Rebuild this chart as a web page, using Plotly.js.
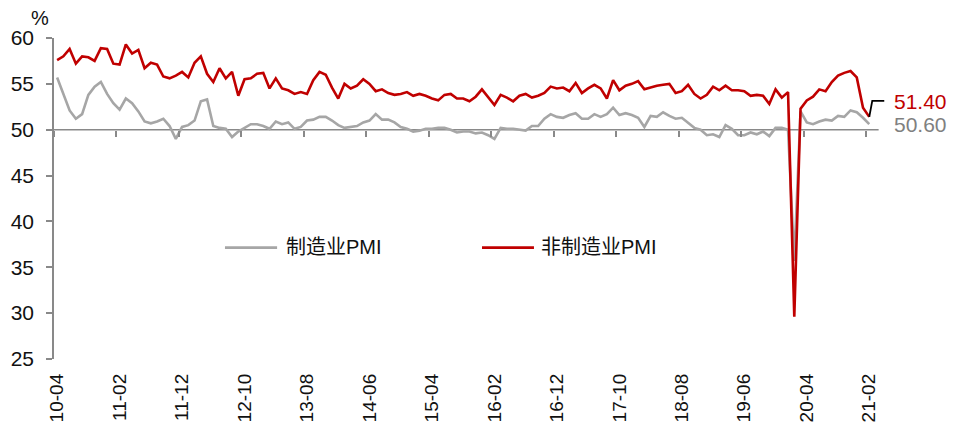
<!DOCTYPE html>
<html>
<head>
<meta charset="utf-8">
<script src="https://cdn.plot.ly/plotly-3.0.1.min.js"></script>
<style>
  html, body { margin: 0; padding: 0; background: #fff; }
  #chart { width: 956px; height: 428px; }
</style>
</head>
<body>
<div id="chart"></div>
<script>
// ---- data (monthly, 2010-04 .. 2021-02) ----
const startYear = 2010;
const startMonth = 4;
const monthCount = 131;

const mfgPMI = [
  55.7, 53.9, 52.1, 51.2, 51.7, 53.8, 54.7, 55.2, 53.9,
  52.9, 52.2, 53.4, 52.9, 52.0, 50.9, 50.7, 50.9, 51.2, 50.4, 49.0, 50.3,
  50.5, 51.0, 53.1, 53.3, 50.4, 50.2, 50.1, 49.2, 49.8, 50.2, 50.6, 50.6,
  50.4, 50.1, 50.9, 50.6, 50.8, 50.1, 50.3, 51.0, 51.1, 51.4, 51.4, 51.0,
  50.5, 50.2, 50.3, 50.4, 50.8, 51.0, 51.7, 51.1, 51.1, 50.8, 50.3, 50.1,
  49.8, 49.9, 50.1, 50.1, 50.2, 50.2, 50.0, 49.7, 49.8, 49.8, 49.6, 49.7,
  49.4, 49.0, 50.2, 50.1, 50.1, 50.0, 49.9, 50.4, 50.4, 51.2, 51.7, 51.4,
  51.3, 51.6, 51.8, 51.2, 51.2, 51.7, 51.4, 51.7, 52.4, 51.6, 51.8, 51.6,
  51.3, 50.3, 51.5, 51.4, 51.9, 51.5, 51.2, 51.3, 50.8, 50.2, 50.0, 49.4,
  49.5, 49.2, 50.5, 50.1, 49.4, 49.4, 49.7, 49.5, 49.8, 49.3, 50.2, 50.2,
  50.0, 35.7, 52.0, 50.8, 50.6, 50.9, 51.1, 51.0, 51.5, 51.4, 52.1, 51.9,
  51.3, 50.6
];

const nonMfgPMI = [
  57.6, 58.0, 58.8, 57.2, 58.0, 57.9, 57.5, 58.9, 58.8,
  57.2, 57.1, 59.3, 58.3, 58.7, 56.7, 57.3, 57.1, 55.8, 55.6, 55.9, 56.3,
  55.7, 57.3, 58.0, 56.1, 55.2, 56.7, 55.6, 56.3, 53.7, 55.5, 55.6, 56.1,
  56.2, 54.5, 55.6, 54.5, 54.3, 53.9, 54.1, 53.9, 55.4, 56.3, 56.0, 54.6,
  53.4, 55.0, 54.5, 54.8, 55.5, 55.0, 54.2, 54.4, 54.0, 53.8, 53.9, 54.1,
  53.7, 53.9, 53.7, 53.4, 53.2, 53.8, 53.9, 53.4, 53.4, 53.1, 53.6, 54.4,
  53.5, 52.7, 53.8, 53.5, 53.1, 53.7, 53.9, 53.5, 53.7, 54.0, 54.7, 54.5,
  54.6, 54.2, 55.1, 54.0, 54.5, 54.9, 54.5, 53.4, 55.4, 54.3, 54.8, 55.0,
  55.3, 54.4, 54.6, 54.8, 54.9, 55.0, 54.0, 54.2, 54.9, 53.9, 53.4, 53.8,
  54.7, 54.3, 54.8, 54.3, 54.3, 54.2, 53.7, 53.8, 53.7, 52.8, 54.4, 53.5,
  54.1, 29.6, 52.3, 53.2, 53.6, 54.4, 54.2, 55.2, 55.9, 56.2, 56.4, 55.7,
  52.4, 51.4
];

const tickLabels = ['10-04','11-02','11-12','12-10','13-08','14-06','15-04',
                    '16-02','16-12','17-10','18-08','19-06','20-04','21-02'];
const yTicks = [25, 30, 35, 40, 45, 50, 55, 60];
const seriesNames = ['制造业PMI', '非制造业PMI'];

// ---- categories ----
const months = [];
for (let k = 0; k < monthCount; k++) {
  const m = startMonth - 1 + k;
  const yy = String(startYear + Math.floor(m / 12)).slice(2);
  const mm = String(m % 12 + 1).padStart(2, '0');
  months.push(yy + '-' + mm);
}
const xIdx = months.map((_, i) => i);
const tickIdx = tickLabels.map(l => months.indexOf(l));

const RED = '#C00000';
const GRAY = '#A6A6A6';
const AXIS = '#898989';
const FONT = "'Liberation Sans', Arial, 'Noto Sans CJK SC', sans-serif";

const yRange = [25, 60];
const crossAt = 50;
const xRange = [-0.5, 133];

const last = monthCount - 1;

const traces = [
  {
    x: xIdx, y: mfgPMI, text: months, name: seriesNames[0],
    type: 'scatter', mode: 'lines', xaxis: 'x', yaxis: 'y',
    line: { color: GRAY, width: 2.6 },
    hovertemplate: '%{text}: %{y}<extra>' + seriesNames[0] + '</extra>',
    showlegend: false
  },
  {
    x: xIdx, y: nonMfgPMI, text: months, name: seriesNames[1],
    type: 'scatter', mode: 'lines', xaxis: 'x2', yaxis: 'y',
    line: { color: RED, width: 2.6 },
    hovertemplate: '%{text}: %{y}<extra>' + seriesNames[1] + '</extra>',
    showlegend: false
  }
];

// legend geometry (paper coords)
const legY = 0.347;
const legend = [
  { color: GRAY, x0: 0.205, x1: 0.2675, tx: 0.276, name: seriesNames[0] },
  { color: RED,  x0: 0.5132, x1: 0.5755, tx: 0.582, name: seriesNames[1] }
];

const shapes = [
  { type: 'line', xref: 'x', yref: 'y', x0: -0.5, x1: monthCount + 0.5,
    y0: crossAt, y1: crossAt, line: { color: AXIS, width: 1.5 }, layer: 'below' },
  { type: 'path', xref: 'x', yref: 'y', xsizemode: 'pixel', ysizemode: 'pixel',
    xanchor: last, yanchor: nonMfgPMI[last], path: 'M0,0L3,16L15,16',
    line: { color: '#000', width: 1.8 } }
];
legend.forEach(l => shapes.push({
  type: 'line', xref: 'paper', yref: 'paper', x0: l.x0, x1: l.x1, y0: legY, y1: legY,
  line: { color: l.color, width: 2.6 }
}));

const annotations = [
  { xref: 'paper', yref: 'paper', x: -0.017, y: 1.062, text: '%', showarrow: false,
    xanchor: 'center', yanchor: 'middle', font: { family: FONT, size: 20, color: '#111' } },
  { xref: 'x', yref: 'y', x: last, y: nonMfgPMI[last], xshift: 23, yshift: 15,
    text: nonMfgPMI[last].toFixed(2), showarrow: false, xanchor: 'left', yanchor: 'middle',
    font: { family: FONT, size: 21, color: RED } },
  { xref: 'x', yref: 'y', x: last, y: mfgPMI[last], xshift: 23, yshift: 0,
    text: mfgPMI[last].toFixed(2), showarrow: false, xanchor: 'left', yanchor: 'middle',
    font: { family: FONT, size: 21, color: '#808080' } }
];
legend.forEach(l => annotations.push({
  xref: 'paper', yref: 'paper', x: l.tx, y: legY + 0.003, text: l.name, showarrow: false,
  xanchor: 'left', yanchor: 'middle', font: { family: FONT, size: 20, color: '#111' }
}));

const layout = {
  width: 956, height: 428,
  margin: { l: 54, r: 68, t: 38, b: 69, pad: 0, autoexpand: false },
  paper_bgcolor: '#fff', plot_bgcolor: '#fff',
  font: { family: FONT, size: 21, color: '#111' },
  showlegend: false,
  xaxis: {
    range: xRange, tickmode: 'array', tickvals: tickIdx, ticktext: tickLabels,
    tickangle: -90, ticks: '', showline: false, showgrid: false, zeroline: false,
    tickfont: { family: FONT, size: 19, color: '#111' }, ticklabelstandoff: 10,
    fixedrange: true
  },
  xaxis2: {
    overlaying: 'x', anchor: 'free',
    position: (crossAt - yRange[0]) / (yRange[1] - yRange[0]),
    range: xRange, tickmode: 'array', tickvals: tickIdx.map(i => i - 0.5),
    showticklabels: false, ticks: 'outside', ticklen: 6, tickwidth: 1.5, tickcolor: AXIS,
    showline: false, showgrid: false, zeroline: false, fixedrange: true
  },
  yaxis: {
    range: yRange, tickmode: 'array', tickvals: yTicks,
    ticks: 'outside', ticklen: 6, tickwidth: 1.5, tickcolor: AXIS,
    showline: true, linecolor: AXIS, linewidth: 1.5,
    showgrid: false, zeroline: false,
    tickfont: { family: FONT, size: 21, color: '#111' }, ticklabelstandoff: 8,
    fixedrange: true
  },
  shapes: shapes,
  annotations: annotations
};

Plotly.newPlot('chart', traces, layout, { displayModeBar: false, staticPlot: false });
</script>
</body>
</html>
